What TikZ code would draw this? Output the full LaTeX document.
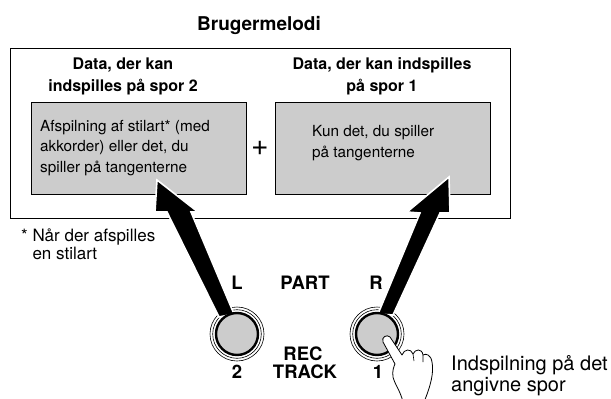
\documentclass[tikz,border=0pt]{standalone}
\usepackage{fontspec}
\setmainfont{TeX Gyre Heros}
\usetikzlibrary{calc}
\definecolor{keygray}{gray}{0.8}

\tikzset{
  head/.style={font=\bfseries\fontsize{16}{22}\selectfont, align=center, inner sep=0},
  body/.style={font=\fontsize{15.3}{20.5}\selectfont, align=left, inner sep=0},
  lbl/.style={font=\bfseries\fontsize{18.5}{18}\selectfont, inner sep=0},
  trackbox/.style={draw, fill=keygray, line width=0.5pt, minimum width=215pt,
    minimum height=92pt, inner sep=0, anchor=north west},
  bigarrow/.style={fill=black, draw=white, line width=1.6pt, line join=miter},
  keyring/.style={draw, line width=0.6pt},
}

\begin{document}
\begin{tikzpicture}[x=1pt,y=-1pt]
    \useasboundingbox (0,0) rectangle (611,399);

    \node[font=\bfseries\fontsize{19}{22}\selectfont] (title) at (259,25) {Brugermelodi};
    \node[draw, line width=1.3pt, minimum width=500pt, minimum height=170pt,
          inner sep=0, anchor=north west] (frame) at (10,48) {};

    % the two tracks
    \node[head] (headL) at (123,76) {Data, der kan\\indspilles på spor 2};
    \node[head] (headR) at (382,76) {Data, der kan indspilles\\på spor 1};
    \node[trackbox] (trackL) at (31,102) {};
    \node[trackbox] (trackR) at (275,102) {};
    \node[body, anchor=west] (textL) at (40,148)
        {Afspilning af stilart* (med\\akkorder) eller det, du\\spiller på tangenterne};
    \node[body, anchor=west] (textR) at (312,143) {Kun det, du spiller\\på tangenterne};
    \node[font=\fontsize{30}{30}\selectfont, inner sep=0] (plus) at (260,148) {+};

    \node[body, font=\fontsize{17}{18}\selectfont, anchor=north west] (note) at (21,229)
        {* Når der afspilles\\\hphantom{* }en stilart};

    % outer rings of the buttons
    \coordinate (cL) at (237,334);
    \coordinate (cR) at (377,334);
    \foreach \c in {cL,cR}{
        \draw[keyring] (\c) circle (27);
        \draw[keyring] (\c) circle (24.3);
    }

    % arrows from the buttons up to the tracks
    \draw[bigarrow] (157,180) -- (198,212) -- (191,212) -- (234,314)
        -- (219,317) -- (167,212) -- (155,212) -- cycle;
    \draw[bigarrow] (449,177) -- (450,213) -- (440,213) -- (393,315)
        -- (378,314) -- (420,213) -- (407,212) -- cycle;

    \node[circle, draw, fill=keygray, line width=2.4pt, minimum size=42pt, inner sep=0] (btnL) at (cL) {};
    \node[circle, draw, fill=keygray, line width=2.4pt, minimum size=42pt, inner sep=0] (btnR) at (cR) {};

    \node[lbl] (partL) at (237,283) {L};
    \node[lbl] (part) at (305,283) {PART};
    \node[lbl] (partR) at (376,283) {R};
    \node[lbl] (rec) at (303,354) {REC};
    \node[lbl] (track) at (305,372) {TRACK};
    \node[lbl] (trk2) at (237,372) {2};
    \node[lbl] (trk1) at (378,372) {1};

    % finger pressing the right button
    \draw[fill=white, line width=0.8pt, line join=round]
        (383,342) .. controls (381,337) and (387,334) .. (390,337)
        -- (402,355)
        .. controls (404,349) and (411,348) .. (413,354)
        .. controls (415,349) and (422,348) .. (423,355)
        .. controls (426,353) and (431,355) .. (432,362)
        .. controls (434,372) and (431,385) .. (424,402)
        -- (403,402)
        .. controls (400,390) and (395,385) .. (393,377)
        .. controls (392,371) and (394,366) .. (395,364)
        -- cycle;
    \draw[line width=0.6pt] (413,354) -- (414,361) (423,355) -- (423,362);

    \node[body, font=\fontsize{20}{21.7}\selectfont, anchor=north west] (press) at (451,355)
        {Indspilning på det\\angivne spor};
\end{tikzpicture}
\end{document}
